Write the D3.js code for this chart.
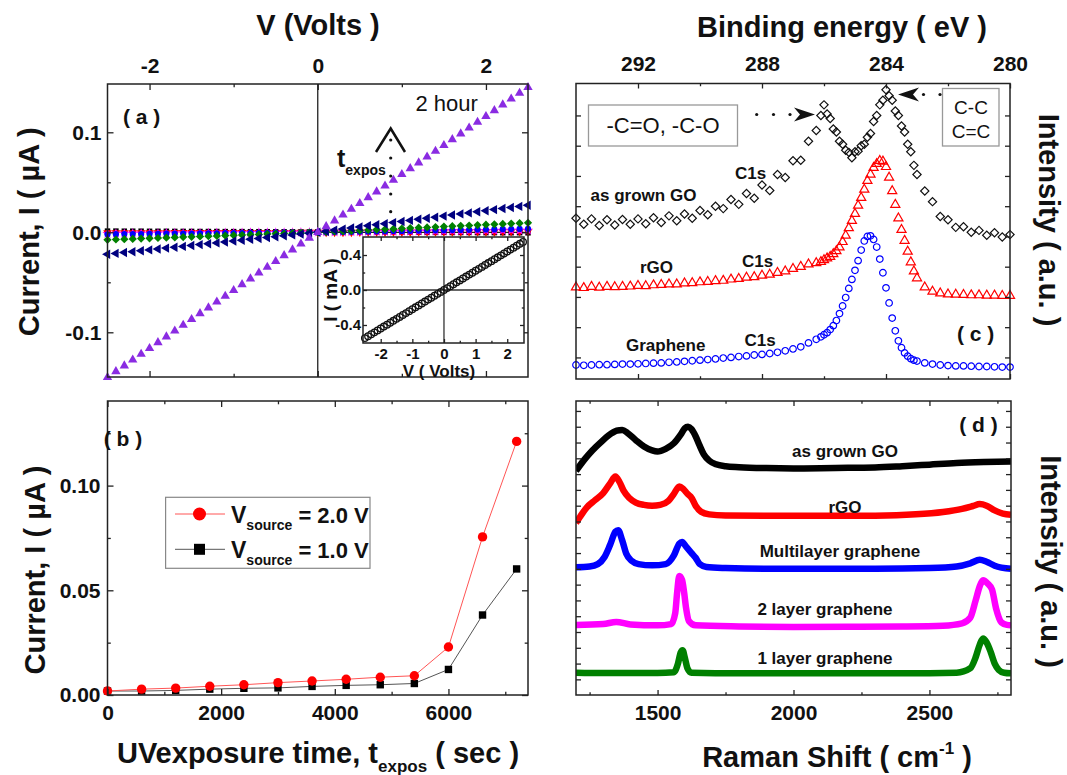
<!DOCTYPE html>
<html><head><meta charset="utf-8">
<script src="https://cdn.jsdelivr.net/npm/d3@7"></script>
<style>body{margin:0;background:#fff}</style>
</head><body>
<svg id="c" width="1067" height="775"></svg>
<script>
// ================= DATA =================
// (a) I-V curves for increasing UV exposure time
const voltsA = [-2.5,-2.4,-2.3,-2.2,-2.1,-2.0,-1.9,-1.8,-1.7,-1.6,-1.5,-1.4,-1.3,-1.2,-1.1,-1.0,-0.9,-0.8,-0.7,-0.6,-0.5,-0.4,-0.3,-0.2,-0.1,0,
  0.1,0.2,0.3,0.4,0.5,0.6,0.7,0.8,0.9,1.0,1.1,1.2,1.3,1.4,1.5,1.6,1.7,1.8,1.9,2.0,2.1,2.2,2.3,2.4,2.5];
const iPurple = [-0.145,-0.1392,-0.1334,-0.1276,-0.1218,-0.116,-0.1102,-0.1044,-0.0986,-0.0928,-0.087,-0.0812,-0.0754,-0.0696,-0.0638,-0.058,-0.0522,-0.0464,-0.0406,-0.0348,-0.029,-0.0232,-0.0174,-0.0116,-0.0058,0,
  0.0058,0.0116,0.0174,0.0232,0.029,0.0348,0.0406,0.0464,0.0522,0.058,0.0638,0.0696,0.0754,0.0812,0.087,0.0928,0.0986,0.1044,0.1102,0.116,0.1218,0.1276,0.1334,0.1392,0.145];
const iNavy = [-0.022,-0.0211,-0.0202,-0.0194,-0.0185,-0.0176,-0.0167,-0.0158,-0.015,-0.0141,-0.0132,-0.0123,-0.0114,-0.0106,-0.0097,-0.0088,-0.0079,-0.007,-0.0062,-0.0053,-0.0044,-0.0035,-0.0026,-0.0018,-0.0009,0,
  0.0011,0.0022,0.0032,0.0043,0.0054,0.0065,0.0076,0.0086,0.0097,0.0108,0.0119,0.013,0.014,0.0151,0.0162,0.0173,0.0184,0.0194,0.0205,0.0216,0.0227,0.0238,0.0248,0.0259,0.027];
const iGreen = [-0.0075,-0.0072,-0.0069,-0.0066,-0.0063,-0.006,-0.0057,-0.0054,-0.0051,-0.0048,-0.0045,-0.0042,-0.0039,-0.0036,-0.0033,-0.003,-0.0027,-0.0024,-0.0021,-0.0018,-0.0015,-0.0012,-0.0009,-0.0006,-0.0003,0,
  0.0004,0.0008,0.0011,0.0015,0.0019,0.0023,0.0027,0.003,0.0034,0.0038,0.0042,0.0046,0.0049,0.0053,0.0057,0.0061,0.0065,0.0068,0.0072,0.0076,0.008,0.0084,0.0087,0.0091,0.0095];
const iBlue = [-0.002,-0.0019,-0.0018,-0.0018,-0.0017,-0.0016,-0.0015,-0.0014,-0.0014,-0.0013,-0.0012,-0.0011,-0.001,-0.001,-0.0009,-0.0008,-0.0007,-0.0006,-0.0006,-0.0005,-0.0004,-0.0003,-0.0002,-0.0002,-0.0001,0,
  0.0001,0.0003,0.0004,0.0006,0.0007,0.0008,0.001,0.0011,0.0013,0.0014,0.0015,0.0017,0.0018,0.002,0.0021,0.0022,0.0024,0.0025,0.0027,0.0028,0.0029,0.0031,0.0032,0.0034,0.0035];
const iMagenta = [-0.0013,-0.0012,-0.0012,-0.0011,-0.0011,-0.001,-0.001,-0.0009,-0.0009,-0.0008,-0.0008,-0.0007,-0.0007,-0.0006,-0.0006,-0.0005,-0.0005,-0.0004,-0.0004,-0.0003,-0.0003,-0.0002,-0.0002,-0.0001,-0.0001,0,
  0.0001,0.0002,0.0002,0.0003,0.0004,0.0005,0.0006,0.0006,0.0007,0.0008,0.0009,0.001,0.001,0.0011,0.0012,0.0013,0.0014,0.0014,0.0015,0.0016,0.0017,0.0018,0.0018,0.0019,0.002];
const iRed = [-0.0005,-0.0005,-0.0005,-0.0004,-0.0004,-0.0004,-0.0004,-0.0004,-0.0003,-0.0003,-0.0003,-0.0003,-0.0003,-0.0002,-0.0002,-0.0002,-0.0002,-0.0002,-0.0001,-0.0001,-0.0001,-0.0001,-0.0001,0,0,0,
  0,0.0001,0.0001,0.0001,0.0002,0.0002,0.0002,0.0002,0.0003,0.0003,0.0003,0.0004,0.0004,0.0004,0.0005,0.0005,0.0005,0.0005,0.0006,0.0006,0.0006,0.0007,0.0007,0.0007,0.0008];
const iBlack = [0.0012,0.0012,0.0011,0.0011,0.0011,0.001,0.001,0.001,0.0009,0.0009,0.0009,0.0008,0.0008,0.0008,0.0007,0.0007,0.0007,0.0006,0.0006,0.0006,0.0005,0.0005,0.0005,0.0004,0.0004,0.0004,
  0.0003,0.0003,0.0003,0.0002,0.0002,0.0002,0.0001,0.0001,0.0001,0,0,0,-0.0001,-0.0001,-0.0001,-0.0002,-0.0002,-0.0002,-0.0003,-0.0003,-0.0003,-0.0004,-0.0004,-0.0004,-0.0005];
// inset (mA)
const iInset = [-0.55,-0.528,-0.506,-0.484,-0.462,-0.44,-0.418,-0.396,-0.374,-0.352,-0.33,-0.308,-0.286,-0.264,-0.242,-0.22,-0.198,-0.176,-0.154,-0.132,-0.11,-0.088,-0.066,-0.044,-0.022,0,
  0.022,0.044,0.066,0.088,0.11,0.132,0.154,0.176,0.198,0.22,0.242,0.264,0.286,0.308,0.33,0.352,0.374,0.396,0.418,0.44,0.462,0.484,0.506,0.528,0.55];

// (b) current vs UV exposure time
const tExpos = [0,600,1200,1800,2400,3000,3600,4200,4800,5400,6000,6600,7200];
const iV2 = [0.0019,0.0028,0.0033,0.0042,0.0049,0.0059,0.0067,0.0075,0.0085,0.0092,0.0229,0.0755,0.1211];
const iV1 = [0.0019,0.0019,0.0022,0.0028,0.0032,0.0034,0.0041,0.0046,0.0049,0.0055,0.0122,0.0382,0.0602];

// (c) XPS C1s (binding energy, eV ; intensity a.u.)
const xpsEnergy = [294,293.75,293.5,293.25,293,292.75,292.5,292.25,292,291.75,291.5,291.25,291,290.75,290.5,290.25,290,289.75,289.5,289.25,289,288.75,288.5,288.25,288,287.75,287.5,287.25,287,286.75,286.5,286.25,
  286.1,286.0,285.9,285.8,285.7,285.6,285.5,285.4,285.3,285.2,285.1,285.0,284.9,284.8,284.7,284.6,284.5,284.4,284.3,284.2,284.1,284.0,283.9,283.8,283.7,283.6,283.5,283.4,283.3,283.2,283.1,
  283,282.75,282.5,282.25,282,281.75,281.5,281.25,281,280.75,280.5,280.25,280];
const xpsGO = [4.60,4.40,4.58,4.36,4.55,4.38,4.56,4.40,4.58,4.42,4.62,4.46,4.68,4.52,4.74,4.60,4.86,4.72,5.00,4.92,5.22,5.06,5.42,5.26,5.70,5.52,6.05,5.95,6.50,6.52,7.15,7.50,
  8.00,8.35,8.05,7.90,7.55,7.45,7.15,7.05,6.85,6.78,6.60,6.80,6.82,7.00,7.05,7.28,7.40,7.80,8.00,8.35,8.50,8.85,8.65,8.50,8.15,8.00,7.65,7.45,7.05,6.80,6.35,
  6.05,5.50,5.15,4.66,4.55,4.30,4.32,4.14,4.20,4.04,4.12,3.98,4.06];
const xpsRGO = [2.32,2.30,2.34,2.31,2.34,2.33,2.34,2.35,2.37,2.36,2.39,2.40,2.42,2.42,2.45,2.46,2.49,2.50,2.53,2.54,2.58,2.60,2.64,2.66,2.71,2.74,2.80,2.85,2.93,3.00,3.08,3.12,
  3.16,3.22,3.28,3.33,3.42,3.52,3.64,3.82,4.03,4.28,4.52,4.75,5.02,5.28,5.55,5.84,6.05,6.27,6.40,6.50,6.48,6.30,5.95,5.50,5.05,4.60,4.22,3.86,3.50,3.15,2.85,
  2.62,2.32,2.18,2.12,2.09,2.08,2.07,2.06,2.06,2.05,2.05,2.04,2.04];
const xpsGraphene = [-0.25,-0.26,-0.25,-0.24,-0.24,-0.23,-0.22,-0.22,-0.21,-0.20,-0.19,-0.18,-0.16,-0.15,-0.13,-0.11,-0.09,-0.07,-0.05,-0.02,0.00,0.03,0.05,0.08,0.10,0.13,0.17,0.22,0.28,0.35,0.48,0.60,
  0.68,0.75,0.82,0.92,1.05,1.22,1.45,1.70,1.98,2.28,2.58,2.88,3.20,3.55,3.85,4.00,4.02,3.90,3.65,3.25,2.80,2.30,1.80,1.30,0.88,0.55,0.32,0.15,0.04,-0.04,-0.09,
  -0.12,-0.18,-0.22,-0.25,-0.27,-0.28,-0.28,-0.29,-0.30,-0.30,-0.31,-0.32,-0.32];

// (d) Raman spectra [shift cm-1, intensity a.u.]
const ramanGO = [[1200,13.2],[1230,13.9],[1260,14.5],[1290,15.0],[1320,15.45],[1350,15.75],[1370,15.8],[1390,15.6],[1420,15.15],[1450,14.75],[1480,14.5],[1500,14.43],[1530,14.6],[1560,14.95],[1585,15.5],[1600,15.9],[1612,16.0],[1625,15.85],[1640,15.4],[1655,14.8],[1670,14.25],[1690,13.85],[1715,13.62],[1750,13.5],[1800,13.44],[1900,13.38],[2000,13.36],[2100,13.37],[2200,13.4],[2300,13.42],[2400,13.5],[2500,13.6],[2600,13.7],[2700,13.76],[2800,13.8]];
const ramanRGO = [[1200,9.9],[1215,10.3],[1240,10.9],[1270,11.35],[1300,11.8],[1325,12.4],[1345,12.85],[1360,12.5],[1375,11.95],[1395,11.5],[1420,11.2],[1450,11.05],[1480,11.0],[1510,11.05],[1540,11.3],[1560,11.75],[1580,12.22],[1595,12.05],[1610,11.75],[1625,11.5],[1640,11.0],[1660,10.62],[1690,10.45],[1750,10.38],[1900,10.36],[2100,10.36],[2300,10.37],[2450,10.45],[2550,10.6],[2620,10.8],[2660,10.98],[2685,11.1],[2710,11.0],[2740,10.7],[2770,10.5],[2800,10.43]];
const ramanMulti = [[1200,7.1],[1250,7.15],[1280,7.3],[1305,7.75],[1325,8.5],[1345,9.35],[1355,9.45],[1370,8.8],[1385,7.95],[1405,7.5],[1430,7.3],[1480,7.22],[1530,7.3],[1560,7.85],[1580,8.6],[1590,8.7],[1605,8.4],[1625,8.0],[1640,7.7],[1655,7.3],[1680,7.12],[1750,7.05],[1900,7.0],[2100,7.0],[2300,7.0],[2500,7.05],[2600,7.15],[2650,7.35],[2685,7.57],[2710,7.45],[2740,7.2],[2800,7.0]];
const raman2L = [[1200,3.45],[1300,3.5],[1348,3.64],[1400,3.48],[1500,3.42],[1550,3.5],[1565,4.2],[1572,5.5],[1580,6.55],[1590,6.3],[1597,5.6],[1605,4.5],[1615,3.7],[1640,3.42],[1800,3.35],[2000,3.32],[2200,3.33],[2400,3.35],[2550,3.4],[2620,3.55],[2650,3.9],[2670,5.0],[2685,5.9],[2697,6.27],[2715,6.05],[2730,5.7],[2745,4.5],[2765,3.6],[2785,3.45],[2800,3.43]];
const raman1L = [[1200,0.42],[1300,0.40],[1400,0.41],[1500,0.40],[1560,0.45],[1575,1.0],[1585,1.7],[1592,1.85],[1600,1.4],[1610,0.7],[1625,0.42],[1800,0.38],[2000,0.38],[2200,0.38],[2400,0.38],[2600,0.42],[2650,0.7],[2670,1.4],[2685,2.2],[2697,2.59],[2710,2.35],[2725,1.75],[2740,1.0],[2755,0.6],[2775,0.42],[2800,0.38]];

// tick values
const ticksA_x = [-2,0,2], ticksA_xm = [-1,1], ticksA_y = [-0.1,0,0.1], ticksA_ym = [-0.05,0.05];
const ticksI_x = [-2,-1,0,1,2], ticksI_xm = [-1.5,-0.5,0.5,1.5], ticksI_y = [-0.4,0,0.4], ticksI_ym = [-0.2,0.2];
const ticksB_x = [0,2000,4000,6000], ticksB_xm = [1000,3000,5000,7000], ticksB_y = [0,0.05,0.10], ticksB_ym = [0.025,0.075,0.125];
const ticksC_x = [292,288,284,280], ticksC_xm = [290,286,282], ticksC_y = [0,1,2,3,4,5,6,7,8];
const ticksD_x = [1500,2000,2500], ticksD_xm = [1250,1750,2250,2750], ticksD_y = d3.range(0,18);

// ================= DRAW =================
const FONT = "'Liberation Sans', Arial, Helvetica, sans-serif";
const svg = d3.select("#c");
svg.append("rect").attr("width",1067).attr("height",775).attr("fill","#fff");

const PA={l:107.5,r:528,t:84,b:377}, PB={l:107.5,r:528,t:401,b:695},
      PC={l:576,r:1010,t:83.5,b:379}, PD={l:576,r:1011,t:401,b:695},
      PI={l:363,r:524,t:237,b:343};

const xA=d3.scaleLinear([-2.5,2.5],[PA.l,PA.r]), yA=d3.scaleLinear([-0.1447,0.1483],[PA.b,PA.t]);
const xI=d3.scaleLinear([-2.56,2.53],[PI.l,PI.r]), yI=d3.scaleLinear([-0.606,0.606],[PI.b,PI.t]);
const xB=d3.scaleLinear([0,7400],[PB.l,PB.r]), yB=d3.scaleLinear([0,0.1404],[PB.b,PB.t]);
const xC=d3.scaleLinear([294,280],[PC.l,PC.r]), yC=d3.scaleLinear([-0.713,9.056],[PC.b,PC.t]);
const xD=d3.scaleLinear([1200,2800],[PD.l,PD.r]), yD=d3.scaleLinear([-0.99,17.63],[PD.b,PD.t]);

const none = () => "";
function axis(gen, tr, vals, len, fmt, pad, fs) {
  const a = gen.tickValues(vals).tickSize(-len).tickPadding(pad||0).tickFormat(fmt||none);
  const sel = svg.append("g").attr("transform", tr).call(a);
  sel.select(".domain").remove();
  sel.selectAll("line").attr("stroke","#222").attr("stroke-width",1.3);
  sel.attr("font-family",FONT).attr("font-size",fs||21).attr("font-weight","bold");
  sel.selectAll("text").attr("fill","#111");
  return sel;
}
function frameAxes(P, x, y, o) {
  axis(d3.axisBottom(x), `translate(0,${P.b})`, o.xt, o.len||6, o.bottomFmt, o.bpad, o.fs);
  if (o.xm) axis(d3.axisBottom(x), `translate(0,${P.b})`, o.xm, (o.len||6)*0.55);
  axis(d3.axisTop(x), `translate(0,${P.t})`, o.xt, o.len||6, o.topFmt, o.tpad, o.fs);
  if (o.xm) axis(d3.axisTop(x), `translate(0,${P.t})`, o.xm, (o.len||6)*0.55);
  axis(d3.axisLeft(y), `translate(${P.l},0)`, o.yt, o.len||6, o.leftFmt, o.lpad, o.fs);
  if (o.ym) axis(d3.axisLeft(y), `translate(${P.l},0)`, o.ym, (o.len||6)*0.55);
  axis(d3.axisRight(y), `translate(${P.r},0)`, o.yt, o.len||6);
  if (o.ym) axis(d3.axisRight(y), `translate(${P.r},0)`, o.ym, (o.len||6)*0.55);
}
function frame(P, sw) {
  svg.append("rect").attr("x",P.l).attr("y",P.t).attr("width",P.r-P.l).attr("height",P.b-P.t)
    .attr("fill","none").attr("stroke","#222").attr("stroke-width",sw||1.5);
}
function clip(id,P){
  svg.append("clipPath").attr("id",id).append("rect").attr("x",P.l).attr("y",P.t).attr("width",P.r-P.l).attr("height",P.b-P.t);
}
function text(x,y,str,o={}) {
  const t = svg.append("text").attr("font-family",FONT).attr("font-size",o.size||21)
    .attr("font-weight",o.weight||"bold").attr("text-anchor",o.anchor||"middle").attr("fill","#111");
  if (o.rot) t.attr("transform",`translate(${x},${y}) rotate(${o.rot})`); else t.attr("x",x).attr("y",y);
  t.text(str);
  return t;
}

// ---------- Panel (a) ----------
svg.append("line").attr("x1",xA(0)).attr("x2",xA(0)).attr("y1",PA.t).attr("y2",PA.b).attr("stroke","#222").attr("stroke-width",1.3);
svg.append("line").attr("x1",xA(0)).attr("x2",PA.r).attr("y1",yA(0)).attr("y2",yA(0)).attr("stroke","#222").attr("stroke-width",1.3);
const seriesA = [
  {v:iBlack, c:"#000000", t:d3.symbolSquare, r:0, s:30},
  {v:iRed, c:"#ff0000", t:d3.symbolTriangle, r:180, s:32},
  {v:iMagenta, c:"#ff00ff", t:d3.symbolStar, r:0, s:32},
  {v:iBlue, c:"#0000ff", t:d3.symbolCircle, r:0, s:30},
  {v:iGreen, c:"#008000", t:d3.symbolSquare, r:45, s:34},
  {v:iNavy, c:"#000080", t:d3.symbolTriangle, r:-90, s:38},
  {v:iPurple, c:"#8a2be2", t:d3.symbolTriangle, r:0, s:38}
];
seriesA.forEach(S => {
  const sym = d3.symbol().type(S.t).size(S.s)();
  svg.append("g").selectAll("path").data(voltsA).join("path")
    .attr("d", sym).attr("fill", S.c)
    .attr("transform",(d,i)=>`translate(${xA(d)},${yA(S.v[i])}) rotate(${S.r})`);
});
frame(PA);
frameAxes(PA, xA, yA, {xt:ticksA_x, xm:ticksA_xm, yt:ticksA_y, ym:ticksA_ym,
  topFmt:d=>String(d), tpad:11, leftFmt:d=>d.toFixed(1), lpad:6});

// inset
svg.append("rect").attr("x",PI.l).attr("y",PI.t).attr("width",PI.r-PI.l).attr("height",PI.b-PI.t).attr("fill","#fff");
svg.append("line").attr("x1",xI(0)).attr("x2",xI(0)).attr("y1",PI.t).attr("y2",PI.b).attr("stroke","#333").attr("stroke-width",1.3);
svg.append("line").attr("x1",PI.l).attr("x2",PI.r).attr("y1",yI(0)).attr("y2",yI(0)).attr("stroke","#333").attr("stroke-width",1.3);
svg.append("g").selectAll("circle").data(voltsA).join("circle")
  .attr("cx",d=>xI(d)).attr("cy",(d,i)=>yI(iInset[i])).attr("r",3.3)
  .attr("fill","none").attr("stroke","#111").attr("stroke-width",1.3);
frame(PI,1.5);
frameAxes(PI, xI, yI, {xt:ticksI_x, xm:ticksI_xm, yt:ticksI_y, ym:ticksI_ym, len:4, fs:15,
  bottomFmt:d=>String(d), bpad:5, leftFmt:d=>d.toFixed(1), lpad:2});
text(439,376.5,"V ( Volts)",{size:17});
text(337,290,"I ( mA )",{size:19, rot:-90});

// panel (a) annotations
text(141.7,124,"( a )",{size:21});
text(446.7,111,"2 hour",{size:22, weight:"normal"});
const tex = text(337,167,"t",{size:25, anchor:"start"});
tex.append("tspan").attr("font-size",14).attr("dy",8).text("expos");
svg.append("polyline").attr("points","376,152 390.7,128.5 405,152").attr("fill","none").attr("stroke","#111").attr("stroke-width",2.5);
[140,158,176,194,211.7].forEach(yy=>svg.append("circle").attr("cx",390.7).attr("cy",yy).attr("r",1.6).attr("fill","#111"));

// titles (a)
text(318,35,"V (Volts )",{size:29});
text(39,231.7,"Current, I ( \u00b5A )",{size:29, rot:-90});

// ---------- Panel (b) ----------
const lineB = d3.line().x((d,i)=>xB(tExpos[i])).y(d=>yB(d));
svg.append("path").attr("d",lineB(iV1)).attr("fill","none").attr("stroke","#555").attr("stroke-width",1);
svg.append("path").attr("d",lineB(iV2)).attr("fill","none").attr("stroke","#ff5555").attr("stroke-width",1);
svg.append("g").selectAll("rect").data(iV1).join("rect")
  .attr("x",(d,i)=>xB(tExpos[i])-3.7).attr("y",d=>yB(d)-3.7).attr("width",7.4).attr("height",7.4).attr("fill","#000");
svg.append("g").selectAll("circle").data(iV2).join("circle")
  .attr("cx",(d,i)=>xB(tExpos[i])).attr("cy",d=>yB(d)).attr("r",4.7).attr("fill","#ff0000");
frame(PB);
frameAxes(PB, xB, yB, {xt:ticksB_x, xm:ticksB_xm, yt:ticksB_y, ym:ticksB_ym,
  bottomFmt:d=>String(d), bpad:10, leftFmt:d=>d.toFixed(2), lpad:7});
text(123,446,"( b )",{size:21});
// legend
svg.append("rect").attr("x",165.6).attr("y",497.3).attr("width",204.4).attr("height",71).attr("fill","#fff").attr("stroke","#888").attr("stroke-width",1.2);
svg.append("line").attr("x1",175).attr("x2",225).attr("y1",514).attr("y2",514).attr("stroke","#ff5555").attr("stroke-width",1);
svg.append("circle").attr("cx",199.5).attr("cy",514).attr("r",6.5).attr("fill","#ff0000");
svg.append("line").attr("x1",175).attr("x2",225).attr("y1",549.3).attr("y2",549.3).attr("stroke","#555").attr("stroke-width",1);
svg.append("rect").attr("x",194).attr("y",543.8).attr("width",11).attr("height",11).attr("fill","#000");
[[514,"= 2.0 V"],[549.3,"= 1.0 V"]].forEach(([yy,s])=>{
  const t = text(231,yy+8.5,"V",{size:23, anchor:"start"});
  t.append("tspan").attr("font-size",14).attr("dy",7).text("source");
  t.append("tspan").attr("font-size",22).attr("dy",-7).text(" "+s);
});
const tb = text(318,763,"UVexposure time, t",{size:29});
tb.append("tspan").attr("font-size",17).attr("dy",9).text("expos");
tb.append("tspan").attr("dy",-9).text(" ( sec )");
text(44.5,570,"Current, I ( \u00b5A )",{size:29, rot:-90});

// ---------- Panel (c) ----------
const xpsSeries = [
  {v:xpsGraphene, c:"#0000ff", t:d3.symbolCircle, r:0, s:34},
  {v:xpsRGO, c:"#ff0000", t:d3.symbolTriangle, r:0, s:36},
  {v:xpsGO, c:"#111111", t:d3.symbolSquare, r:45, s:34}
];
xpsSeries.forEach(S=>{
  const sym = d3.symbol().type(S.t).size(S.s)();
  svg.append("g").selectAll("path").data(xpsEnergy).join("path")
    .attr("d",sym).attr("fill","none").attr("stroke",S.c).attr("stroke-width",1.2)
    .attr("transform",(d,i)=>`translate(${xC(d)},${yC(S.v[i])}) rotate(${S.r})`);
});
frame(PC);
frameAxes(PC, xC, yC, {xt:ticksC_x, xm:ticksC_xm, yt:ticksC_y, topFmt:d=>String(d), tpad:13, len:5});
// boxes
svg.append("rect").attr("x",588.5).attr("y",105).attr("width",149).attr("height",41).attr("fill","#fff").attr("stroke","#999").attr("stroke-width",1.3);
text(663,133,"-C=O, -C-O",{size:22, weight:"normal"});
svg.append("rect").attr("x",942.5).attr("y",88.5).attr("width",56.5).attr("height",57.5).attr("fill","#fff").attr("stroke","#999").attr("stroke-width",1.3);
text(971,113.5,"C-C",{size:19, weight:"normal"});
text(971,137.5,"C=C",{size:19, weight:"normal"});
// arrows
[756.7,773.5,790].forEach(xx=>svg.append("circle").attr("cx",xx).attr("cy",114.5).attr("r",1.6).attr("fill","#111"));
svg.append("path").attr("d","M815,114.5 L794,107.5 L800,114.5 L794,121.5 Z").attr("fill","#111");
[923.5,940].forEach(xx=>svg.append("circle").attr("cx",xx).attr("cy",94.5).attr("r",1.6).attr("fill","#111"));
svg.append("path").attr("d","M898,94.5 L919,87.5 L913,94.5 L919,101.5 Z").attr("fill","#111");
text(750.7,178.5,"C1s",{size:17});
text(643.5,201,"as grown GO",{size:17});
text(656.5,273,"rGO",{size:17});
text(757.5,266.5,"C1s",{size:17});
text(665.7,351,"Graphene",{size:17});
text(760,346,"C1s",{size:17});
text(975.7,341,"( c )",{size:21});
text(842,37,"Binding energy ( eV )",{size:29});
text(1038.6,220,"Intensity ( a.u. )",{size:29, rot:90});

// ---------- Panel (d) ----------
clip("clipD",PD);
const lineD = d3.line().x(d=>xD(d[0])).y(d=>yD(d[1])).curve(d3.curveMonotoneX);
[[ramanGO,"#000000"],[ramanRGO,"#ff0000"],[ramanMulti,"#0000ff"],[raman2L,"#ff00ff"],[raman1L,"#008000"]].forEach(([arr,c])=>{
  svg.append("path").attr("d",lineD(arr)).attr("fill","none").attr("stroke",c).attr("stroke-width",6.5)
    .attr("stroke-linejoin","round").attr("clip-path","url(#clipD)");
});
frame(PD);
frameAxes(PD, xD, yD, {xt:ticksD_x, xm:ticksD_xm, yt:ticksD_y, bottomFmt:d=>String(d), bpad:10, len:5});
text(978.5,431.5,"( d )",{size:21});
text(845,457,"as grown GO",{size:17});
text(845,513,"rGO",{size:17});
text(840,556.5,"Multilayer graphene",{size:17});
text(825,614.6,"2 layer graphene",{size:17});
text(825,664,"1 layer graphene",{size:17});
const td = text(837,767,"Raman Shift ( cm",{size:29});
td.append("tspan").attr("font-size",17).attr("dy",-13).text("-1");
td.append("tspan").attr("dy",13).text(" )");
text(1040.6,561.5,"Intensity ( a.u. )",{size:29, rot:90});
</script>
</body></html>
